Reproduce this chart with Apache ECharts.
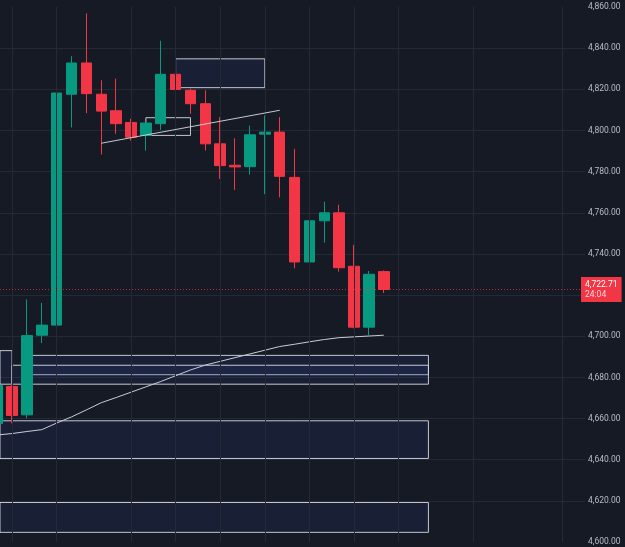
<!DOCTYPE html>
<html>
<head>
<meta charset="utf-8">
<script src="https://cdn.jsdelivr.net/npm/echarts@6/dist/echarts.min.js"></script>
<style>
  html, body { margin: 0; padding: 0; background: #161a25; }
  #chart { width: 625px; height: 547px; }
</style>
</head>
<body>
<div id="chart"></div>
<script>
// candle index, first one is partly cut off at the left edge (k = -1)
const candleIdx = [-1, 0, 1, 2, 3, 4, 5, 6, 7, 8, 9, 10, 11, 12, 13, 14, 15, 16, 17, 18, 19, 20, 21, 22, 23, 24, 25];
const opens  = [4657.6, 4675.6, 4661.8, 4700.5, 4705.4, 4817.6, 4832.8, 4817.6, 4809.6, 4803.9, 4797.6, 4803.3, 4827.3, 4819.5, 4813.0, 4793.5, 4783.1, 4782.4, 4798.2, 4799.2, 4777.2, 4736.1, 4756.1, 4760.0, 4734.0, 4704.4, 4731.4];
const closes = [4676.0, 4661.5, 4700.3, 4705.4, 4818.2, 4832.8, 4817.9, 4809.4, 4803.3, 4796.7, 4803.6, 4827.3, 4819.9, 4813.0, 4793.5, 4782.9, 4782.3, 4797.9, 4799.2, 4777.7, 4736.1, 4756.1, 4760.0, 4733.3, 4704.4, 4730.1, 4722.71];
const lows   = [4655.0, 4657.7, 4660.1, 4696.7, 4704.0, 4801.5, 4808.4, 4788.3, 4798.4, 4795.1, 4790.2, 4800.3, 4818.5, 4808.1, 4790.2, 4776.4, 4771.1, 4778.5, 4769.1, 4767.5, 4733.0, 4734.1, 4745.5, 4731.4, 4703.8, 4700.5, 4721.0];
const highs  = [4678.0, 4677.0, 4717.9, 4716.2, 4819.5, 4836.1, 4856.9, 4824.4, 4825.2, 4805.7, 4804.0, 4843.6, 4839.9, 4820.3, 4819.5, 4806.5, 4796.2, 4802.4, 4807.3, 4806.5, 4791.1, 4762.9, 4765.4, 4763.9, 4744.4, 4731.7, 4732.0];
const maValues = [4652.0, 4652.7, 4653.7, 4654.6, 4657.8, 4660.8, 4664.2, 4667.7, 4670.2, 4672.8, 4675.4, 4678.0, 4680.8, 4683.6, 4686.0, 4687.8, 4689.6, 4691.4, 4693.2, 4695.0, 4696.1, 4697.3, 4698.4, 4699.3, 4699.7, 4700.1, 4700.5];

// visible window in candle units (empty space on the right)
const xMin = -0.81;
const xMax = 38.53;

const lastPrice = 4722.71;
const countdown = '24:04';

// drawn boxes: [fromCandle, toCandle, top, bottom, filled]
const zones = [
  [11, 17, 4834.8, 4820.8, true],
  [9, 12, 4806.2, 4797.6, false],
  [-2, 0, 4693.0, 4676.7, true],
  [1, 28, 4690.7, 4681.3, true],
  [0, 28, 4685.9, 4676.7, true],
  [-2, 28, 4658.9, 4640.6, true],
  [-2, 28, 4619.2, 4604.7, true]
];
// drawn lines: [[candle, price], [candle, price]]
const segments = [
  [[6, 4793.8], [18, 4809.8]],
  [[-2, 4681.3], [1, 4681.3]]
];
// vertical time grid positions (candle index)
const timeGrid = [0, 3, 8, 11, 14, 17, 20, 23, 26, 31, 37];

const candleData = candleIdx.map((k, i) => [k, opens[i], closes[i], lows[i], highs[i]]);
const maData = candleIdx.map((k, i) => [k, maValues[i]]);

const chart = echarts.init(document.getElementById('chart'), null, { renderer: 'canvas' });
window.addEventListener('resize', function () {
  chart.resize();
});

const boxStroke = 'rgba(215,218,226,0.9)';

chart.setOption({
  backgroundColor: '#161a25',
  animation: false,
  grid: { left: 0, right: 40, top: 7, bottom: 5 },
  xAxis: {
    type: 'value',
    min: xMin,
    max: xMax,
    axisLine: { show: false },
    axisTick: { show: false },
    axisLabel: { show: false },
    splitLine: { show: false }
  },
  yAxis: {
    type: 'value',
    position: 'right',
    min: 4600,
    max: 4860,
    interval: 20,
    axisLine: { show: false },
    axisTick: { show: false },
    axisLabel: {
      margin: 3,
      color: '#b8bcc6',
      fontFamily: 'Roboto',
      fontSize: 8.5,
      formatter: v => v.toLocaleString('en-US', { minimumFractionDigits: 2, maximumFractionDigits: 2 })
    },
    splitLine: { show: true, showMinLine: false, showMaxLine: false, lineStyle: { color: '#252935', width: 1 } }
  },
  series: [
    {
      name: 'timegrid',
      type: 'line',
      data: [],
      z: 1,
      silent: true,
      markLine: {
        silent: true,
        symbol: 'none',
        animation: false,
        label: { show: false },
        lineStyle: { color: '#252935', width: 1, type: 'solid' },
        data: timeGrid.map(k => ({ xAxis: k }))
      }
    },
    {
      name: 'price',
      type: 'candlestick',
      data: candleData,
      encode: { x: 0, y: [1, 2, 3, 4] },
      barWidth: 11,
      z: 2,
      itemStyle: {
        color: '#089981',
        color0: '#f23645',
        borderColor: '#089981',
        borderColor0: '#f23645',
        borderWidth: 1
      },
      markLine: {
        silent: true,
        symbol: 'none',
        animation: false,
        z: 10,
        lineStyle: { color: 'rgba(242,54,69,0.7)', width: 1, type: [1, 2] },
        label: {
          show: true,
          position: 'end',
          distance: -4,
          backgroundColor: '#f23645',
          padding: [3, 4, 2, 4],
          formatter: () => '{a|' + lastPrice.toLocaleString('en-US', { minimumFractionDigits: 2 }) + '}\n{b|' + countdown + '}',
          rich: {
            a: { color: '#ffffff', fontFamily: 'Roboto', fontSize: 8.5, lineHeight: 10 },
            b: { color: '#ffd3d6', fontFamily: 'Roboto', fontSize: 8.5, lineHeight: 10 }
          }
        },
        data: [{ yAxis: lastPrice }]
      }
    },
    {
      name: 'MA',
      type: 'line',
      data: maData,
      showSymbol: false,
      symbol: 'none',
      z: 3,
      lineStyle: { color: '#c9ccd3', width: 1 }
    },
    {
      name: 'drawings',
      type: 'line',
      data: [],
      z: 4,
      silent: true,
      markArea: {
        silent: true,
        data: zones.map(z => [
          {
            xAxis: z[0],
            yAxis: z[2],
            itemStyle: {
              color: z[4] ? 'rgba(40,62,125,0.2)' : 'rgba(0,0,0,0)',
              borderColor: boxStroke,
              borderWidth: 1
            }
          },
          { xAxis: z[1], yAxis: z[3] }
        ])
      },
      markLine: {
        silent: true,
        symbol: 'none',
        animation: false,
        label: { show: false },
        lineStyle: { color: boxStroke, width: 1, type: 'solid' },
        data: segments.map(s => [
          { xAxis: s[0][0], yAxis: s[0][1] },
          { xAxis: s[1][0], yAxis: s[1][1] }
        ])
      }
    }
  ]
});
</script>
</body>
</html>
